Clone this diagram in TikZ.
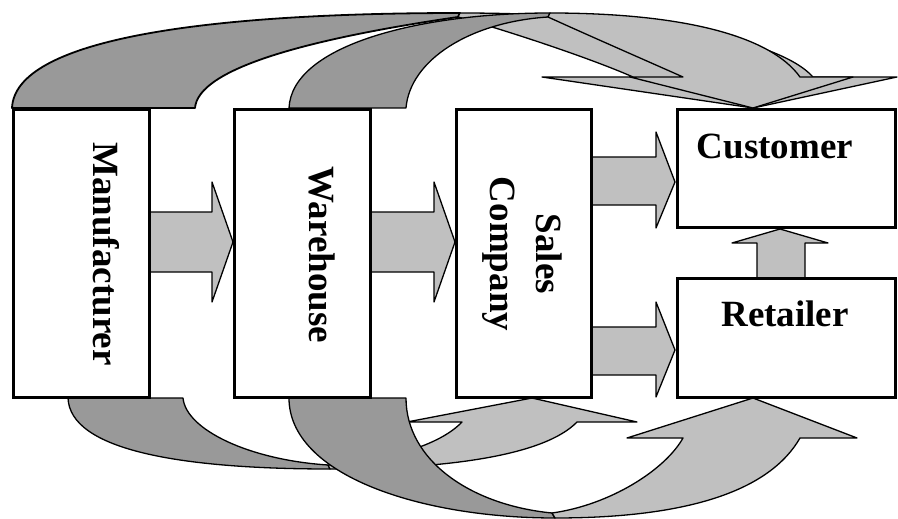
\documentclass[tikz,border=0pt]{standalone}
\usepackage{fontspec}
\setmainfont{Liberation Serif}
\definecolor{shade}{gray}{0.6}
\definecolor{tint}{gray}{0.753}

\begin{document}
\begin{tikzpicture}[x=1pt,y=-1pt,
  box/.style={draw,line width=3pt,fill=white,inner sep=0pt},
  lbl/.style={font=\fontsize{37}{46}\selectfont\bfseries,align=center,inner sep=0pt},
  back/.style={fill=shade,draw,line width=1.3pt,line join=round},
  front/.style={fill=tint,draw,line width=1.3pt,line join=round}]
\useasboundingbox (0,0) rectangle (898,519);

% bends over the top
\draw[back,line width=1.8pt] (12,108) .. controls (15,40) and (200,13) .. (460,13) -- (458,17) .. controls (300,40) and (198,70) .. (195,108) -- cycle;
\draw[front] (460,13) .. controls (650,13) and (780,40) .. (813,77) -- (897,77) -- (753,108) -- (542,77) -- (633,77) .. controls (590,58) and (505,30) .. (458,17) -- cycle;
\draw[back] (289,108) .. controls (292,45) and (420,13) .. (550,13) -- (548,17) .. controls (470,22) and (410,60) .. (406,108) -- cycle;
\draw[front] (550,13) .. controls (680,13) and (770,35) .. (800,77) -- (853,77) -- (753,108) -- (630,77) -- (683,77) .. controls (638,57) and (592,37) .. (548,17) -- cycle;

% bends underneath
\draw[back] (68,398) .. controls (70,450) and (180,469) .. (330,469) -- (328,465) .. controls (250,460) and (186,430) .. (183,398) -- cycle;
\draw[front] (330,469) .. controls (450,469) and (545,455) .. (577,422) -- (637,422) -- (532,398) -- (407,422) -- (462,422) .. controls (440,445) and (390,460) .. (328,465) -- cycle;
\draw[back] (289,398) .. controls (289,475) and (420,518) .. (555,518) -- (552,513) .. controls (470,505) and (406,460) .. (406,398) -- cycle;
\draw[front] (555,518) .. controls (690,518) and (770,490) .. (800,438) -- (857,438) -- (753,398) -- (627,438) -- (683,438) .. controls (665,470) and (610,505) .. (552,513) -- cycle;

% straight arrows
\draw[front] (150,212) -- (212,212) -- (212,182) -- (233,242) -- (212,302) -- (212,272) -- (150,272) -- cycle;
\draw[front] (371,212) -- (434,212) -- (434,182) -- (455,242) -- (434,302) -- (434,272) -- (371,272) -- cycle;
\draw[front] (591,157) -- (656,157) -- (656,132) -- (675,182) -- (656,228) -- (656,205) -- (591,205) -- cycle;
\draw[front] (591,327) -- (656,327) -- (656,302) -- (675,350) -- (656,397) -- (656,375) -- (591,375) -- cycle;
\draw[front] (757,278) -- (757,243) -- (732,243) -- (780,229) -- (828,243) -- (805,243) -- (805,278) -- cycle;

\node[box,minimum width=136pt,minimum height=287pt] (manu) at (81,253.5) {};
\node[box,minimum width=136pt,minimum height=287pt] (ware) at (302,253.5) {};
\node[box,minimum width=135pt,minimum height=287pt] (sales) at (523.5,253.5) {};
\node[box,minimum width=218pt,minimum height=117pt] (cust) at (786,168.5) {};
\node[box,minimum width=218pt,minimum height=119pt] (retl) at (786,337.5) {};

\node[lbl,rotate=-90] (manutxt) at (106,254) {Manufacturer};
\node[lbl,rotate=-90] (waretxt) at (322,255) {Warehouse};
\node[lbl,rotate=-90] (salestxt) at (522,254) {Sales\\Company};
\node[lbl] (custtxt) at (775,146) {Customer};
\node[lbl] (retltxt) at (785,314) {Retailer};
\end{tikzpicture}
\end{document}
